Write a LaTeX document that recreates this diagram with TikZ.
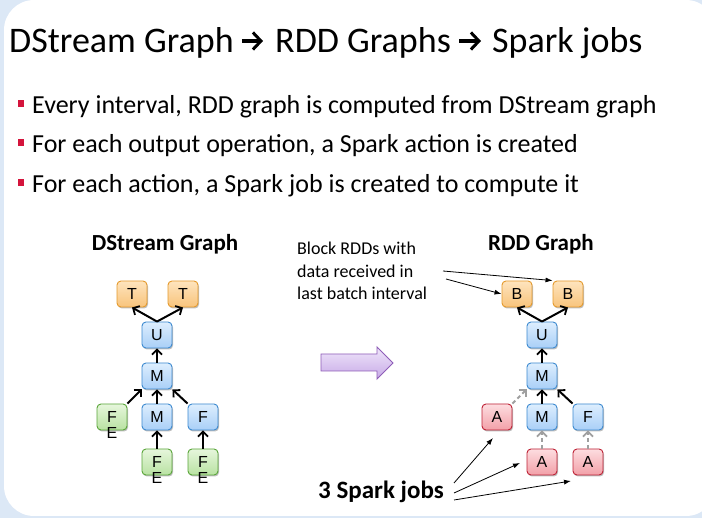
\documentclass[tikz,border=0pt]{standalone}
\usepackage{fontspec}
\setmainfont{Carlito}
\newfontfamily\nodefont{Liberation Sans}
\usetikzlibrary{arrows.meta,shadows,calc}
\definecolor{bgblue}{HTML}{DCE8F6}
\definecolor{bluedraw}{HTML}{3D8AD0}
\definecolor{bluetop}{HTML}{DDEEFE}
\definecolor{bluebot}{HTML}{A9CFF7}
\definecolor{ordraw}{HTML}{E59A2C}
\definecolor{ortop}{HTML}{FEE4BE}
\definecolor{orbot}{HTML}{F8C47C}
\definecolor{grdraw}{HTML}{5AA63A}
\definecolor{grtop}{HTML}{E6F6DC}
\definecolor{grbot}{HTML}{B9E2A2}
\definecolor{rddraw}{HTML}{BE2236}
\definecolor{rdtop}{HTML}{FDDDE0}
\definecolor{rdbot}{HTML}{F2A0A8}
\definecolor{bulletred}{HTML}{D4143C}
\definecolor{purpdraw}{HTML}{8E5DB8}
\definecolor{purptop}{HTML}{F0E6FB}
\definecolor{purpbot}{HTML}{C7AAE6}
\tikzset{
  box/.style={rounded corners=4pt, minimum width=30pt, minimum height=26pt,
    inner sep=0pt, line width=0.9pt, font=\nodefont\fontsize{16}{18}\selectfont,
    drop shadow={shadow xshift=1pt, shadow yshift=-1.5pt, opacity=0.25, fill=black}},
  bluebox/.style={box, draw=bluedraw, top color=bluetop, bottom color=bluebot},
  orbox/.style={box, draw=ordraw, top color=ortop, bottom color=orbot},
  grbox/.style={box, draw=grdraw, top color=grtop, bottom color=grbot,
    text height=11.5pt, text depth=0pt},
  rdbox/.style={box, draw=rddraw, top color=rdtop, bottom color=rdbot},
  edge/.style={line width=2pt, -{Straight Barb[length=5pt,width=10pt,line width=1.8pt]}},
  dedge/.style={line width=2pt, gray!75, dash pattern=on 4pt off 3pt,
    -{Straight Barb[length=5pt,width=10pt,line width=1.8pt]}},
  thin/.style={line width=0.8pt, -{Latex[length=7pt,width=5pt]}},
  titletext/.style={anchor=base west, inner sep=0pt, font=\fontsize{36}{42}\selectfont},
  titlearrow/.style={line width=3.2pt, -{Straight Barb[length=8pt,width=17pt,line width=3pt]}},
  bul/.style={anchor=base west, inner sep=0pt, font=\fontsize{26}{30}\selectfont},
}
\newcommand{\fetext}{\begin{tabular}[t]{@{}c@{}}F\\[-2pt]E\end{tabular}}
\newcommand{\bulsq}[1]{\fill[bulletred] (18,#1-14) rectangle (24,#1-7);}
\begin{document}
\begin{tikzpicture}[x=1pt,y=-1pt]
\useasboundingbox (0,0) rectangle (702,518);
\clip (0,0) rectangle (702,518);
\fill[bgblue] (0,0) rectangle (702,518);
\fill[white, rounded corners=30pt] (4,0) rectangle (716,516);

% title
\node[titletext] (ta) at (9,53) {DStream Graph};
\node[titletext] (tb) at (275,53) {RDD Graphs};
\node[titletext] (tc) at (492,53) {Spark jobs};
\coordinate (ta1) at ($(ta.base east)+(8,-12)$);
\coordinate (ta2) at ($(tb.base west)+(-12,-12)$);
\coordinate (tb1) at ($(tb.base east)+(8,-12)$);
\coordinate (tb2) at ($(tc.base west)+(-11,-12)$);
\draw[titlearrow] (ta1) -- (ta2);
\draw[titlearrow] (tb1) -- (tb2);

% bullets
\bulsq{114}\bulsq{153}\bulsq{193}
\node[bul] (b1) at (32,114) {Every interval, RDD graph is computed from DStream graph};
\node[bul] (b2) at (32,153) {For each output operation, a Spark action is created};
\node[bul] (b3) at (32,193) {For each action, a Spark job is created to compute it};

% headings
\node[font=\bfseries\fontsize{23}{27}\selectfont] (dsh) at (165,244) {DStream Graph};
\node[font=\bfseries\fontsize{23}{27}\selectfont] (rddh) at (541,244) {RDD Graph};

% DStream graph
\node[orbox] (t1) at (132,294) {T};
\node[orbox] (t2) at (183,294) {T};
\node[bluebox] (u) at (157,335) {U};
\node[bluebox] (m1) at (157,376) {M};
\node[grbox] (fe1) at (112,417) {\fetext};
\node[bluebox] (m2) at (157,417) {M};
\node[bluebox] (f1) at (203,417) {F};
\node[grbox] (fe2) at (157,462) {\fetext};
\node[grbox] (fe3) at (203,462) {\fetext};
\draw[edge] (u.north) -- (t1.south);
\draw[edge] (u.north) -- (t2.south);
\draw[edge] (m1) -- (u);
\draw[edge] (m2) -- (m1);
\draw[edge] (fe1.north east) -- (m1.south west);
\draw[edge] (f1.north west) -- (m1.south east);
\draw[edge] (fe2) -- (m2);
\draw[edge] (fe3) -- (f1);

% block arrow
\draw[draw=purpdraw, line width=0.9pt, top color=purptop, bottom color=purpbot]
  (321,354) -- (377,354) -- (377,347) -- (393,363) -- (377,379) -- (377,371) -- (321,371) -- cycle;

% RDD graph
\node[orbox] (b1n) at (517,294) {B};
\node[orbox] (b2n) at (568,294) {B};
\node[bluebox] (u2) at (542,335) {U};
\node[bluebox] (m3) at (542,376) {M};
\node[rdbox] (a1) at (497,417) {A};
\node[bluebox] (m4) at (542,417) {M};
\node[bluebox] (f2) at (588,417) {F};
\node[rdbox] (a2) at (542,462) {A};
\node[rdbox] (a3) at (588,462) {A};
\draw[edge] (u2.north) -- (b1n.south);
\draw[edge] (u2.north) -- (b2n.south);
\draw[edge] (m3) -- (u2);
\draw[edge] (m4) -- (m3);
\draw[edge] (f2.north west) -- (m3.south east);
\draw[dedge] (a1.north east) -- (m3.south west);
\draw[dedge] (a2) -- (m4);
\draw[dedge] (a3) -- (f2);

% block RDD label
\node[anchor=north west, align=left, inner sep=0pt, font=\fontsize{18}{22.5}\selectfont] (blk) at (297,242)
  {Block RDDs with\\data received in\\last batch interval};
\coordinate (bs1) at (443,271);
\coordinate (bs2) at (446,279);
\draw[thin] (bs1) -- (b2n.north west);
\draw[thin] (bs2) -- (b1n.west);

% spark jobs
\node[font=\bfseries\fontsize{25}{29}\selectfont] (jobs) at (381,492) {3 Spark jobs};
\coordinate (j1) at (493,438);
\coordinate (j2) at (520,463);
\coordinate (j3) at (571,481);
\draw[thin] (454,483) -- (j1);
\draw[thin] (454,493) -- (j2);
\draw[thin] (454,500) -- (j3);
\end{tikzpicture}
\end{document}
